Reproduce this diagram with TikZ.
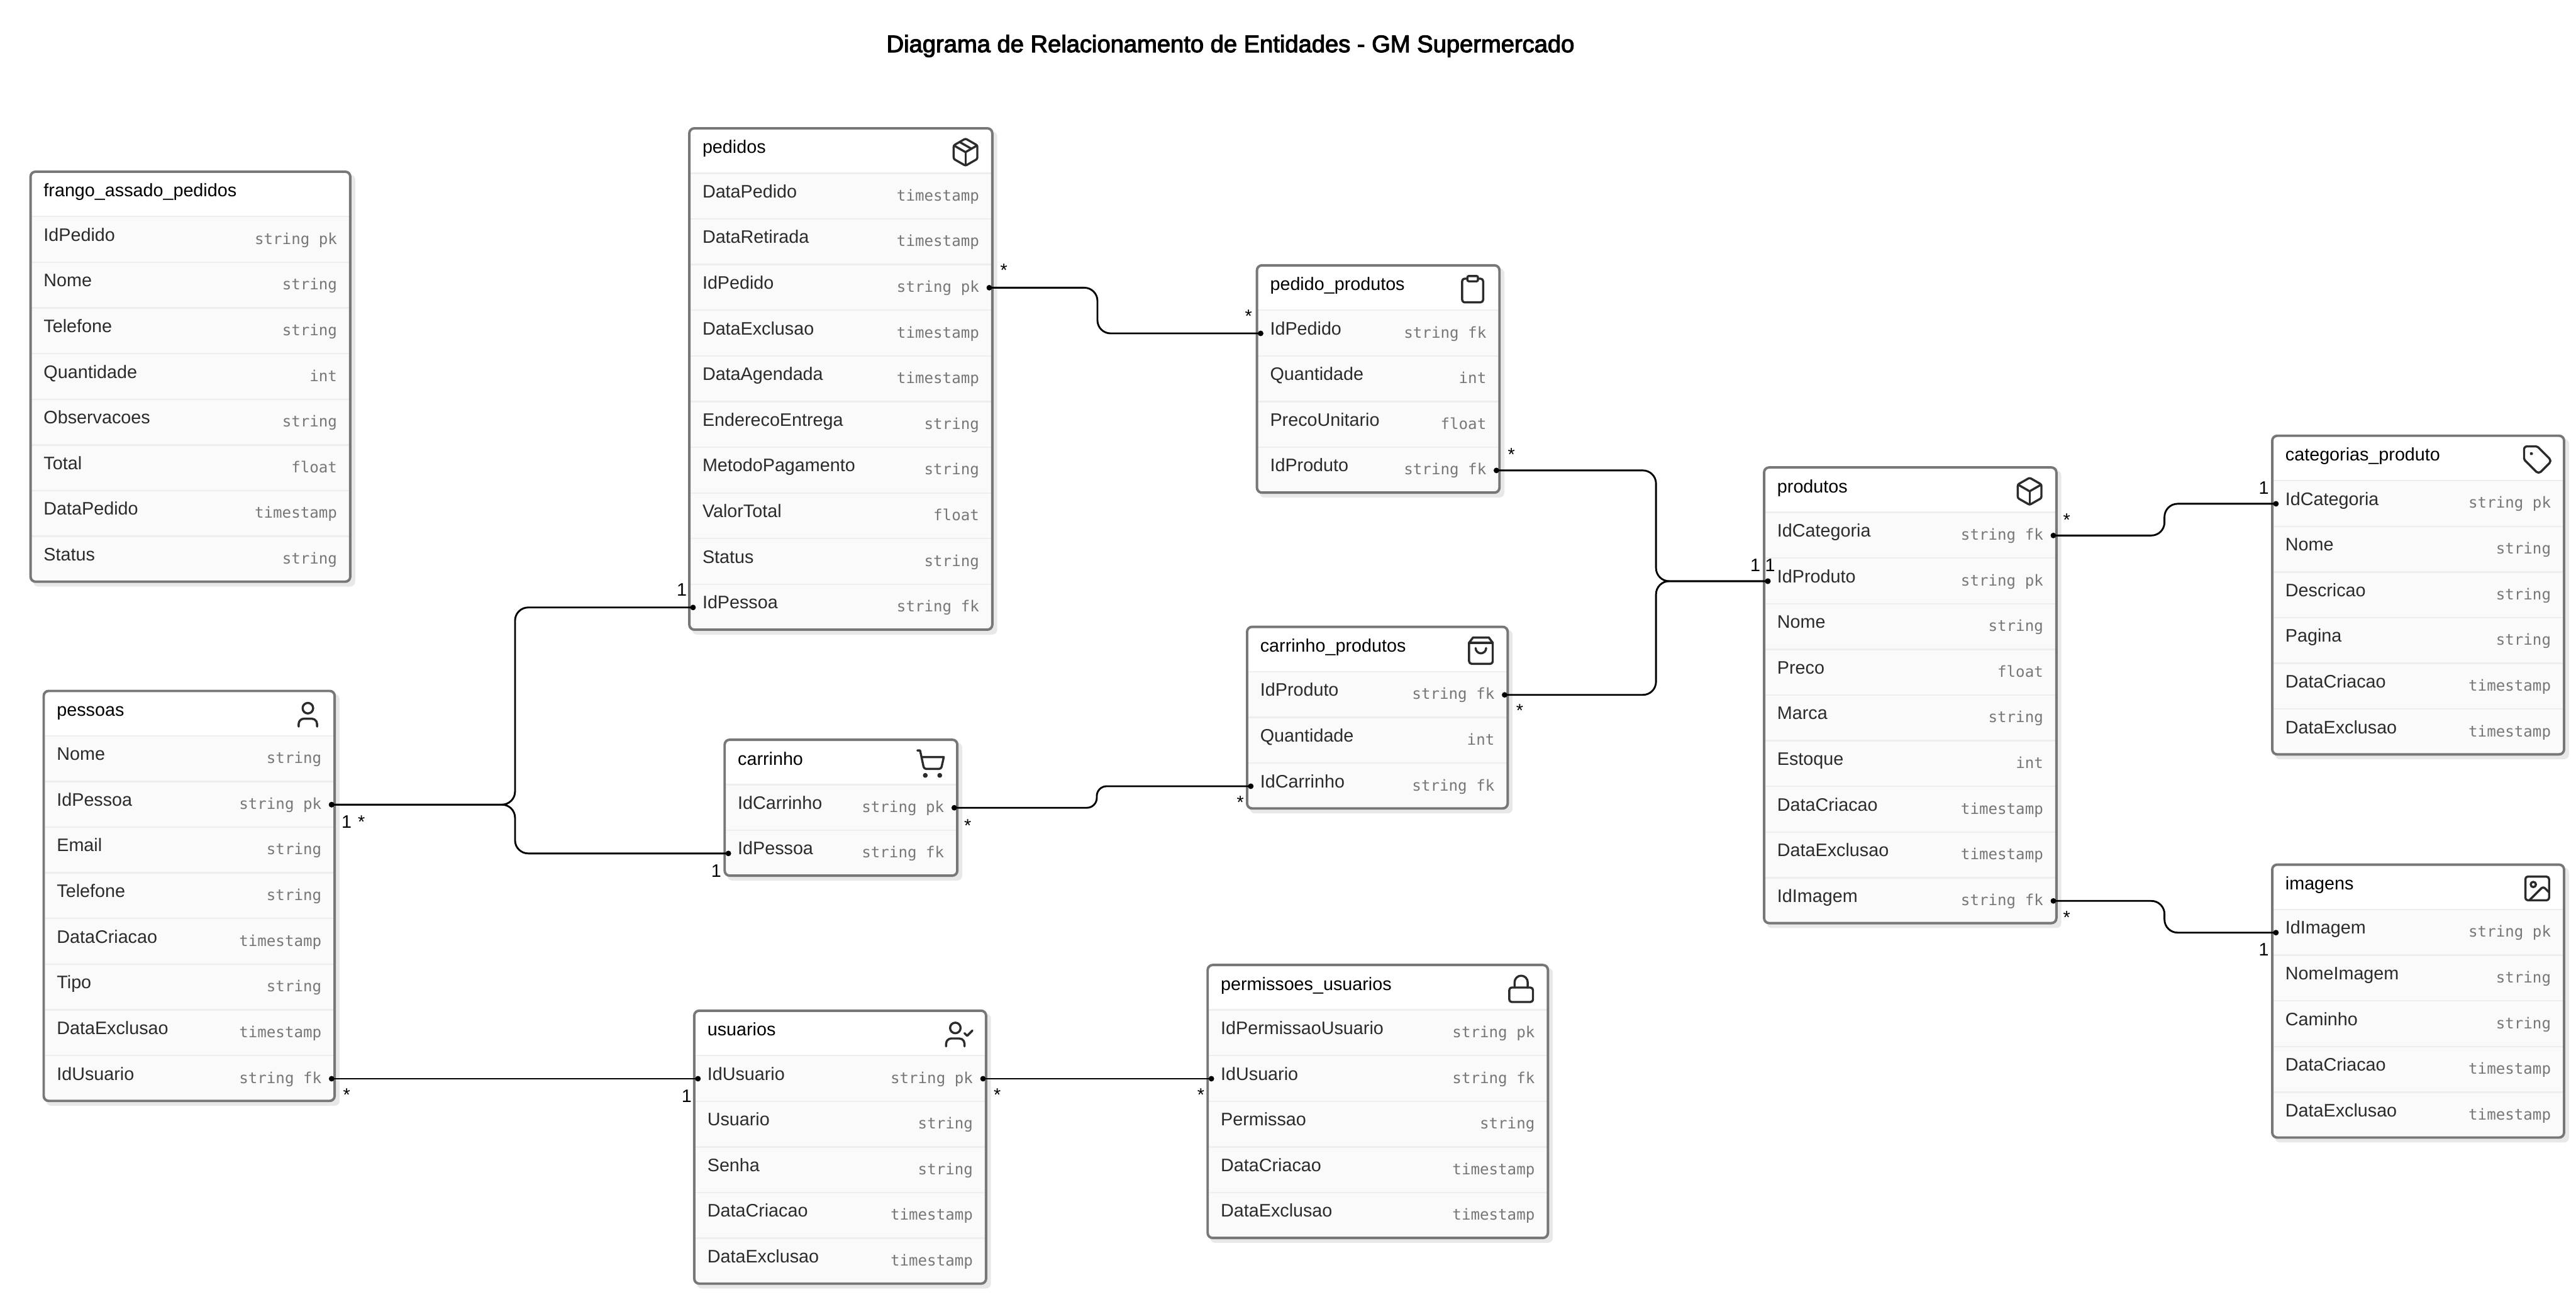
\documentclass[tikz,border=0pt]{standalone}
\usepackage{fontspec}
\setmainfont{Liberation Sans}
\newfontfamily\typefont{DejaVu Sans Mono}
\newfontfamily\titlefont[FakeBold=3]{Liberation Sans}
\usepackage{xcolor}
\usepackage{tikz}
\usetikzlibrary{arrows.meta,positioning,calc,svg.path}

\definecolor{edgegray}{HTML}{777777}
\definecolor{shadegray}{HTML}{E8E8E8}
\definecolor{rowgray}{HTML}{FAFAFA}
\definecolor{linegray}{HTML}{EEEEEE}
\definecolor{inkgray}{HTML}{2B2B2B}

\tikzset{
  rowbox/.style={rectangle,fill=rowgray,inner sep=0pt,anchor=north west,minimum height=27.8pt},
  headtext/.style={anchor=base west,inner sep=0pt,text=black,font=\fontsize{11}{13}\selectfont},
  fieldtext/.style={anchor=base west,inner sep=0pt,text=inkgray,font=\fontsize{11}{13}\selectfont},
  typetext/.style={anchor=base east,inner sep=0pt,text=edgegray,font=\typefont\fontsize{9.25}{11}\selectfont},
  card/.style={inner sep=0pt,font=\fontsize{11}{13}\selectfont},
  many/.style={card,yshift=-1.5pt},
  rel/.style={line width=1.1pt,rounded corners=8pt,{Circle[length=3.3pt,width=3.3pt]}-{Circle[length=3.3pt,width=3.3pt]},shorten <=-4.6pt,shorten >=-4.6pt},
  iconline/.style={draw=inkgray,line width=1.3pt,line cap=round,line join=round,shift={(-12pt,12pt)},yscale=-1},
  noicon/.pic={},
  usericon/.pic={
    \draw[iconline] svg "M19 21 v-2 a4 4 0 0 0 -4 -4 H9 a4 4 0 0 0 -4 4 v2";
    \draw[iconline] svg "M16 7 a4 4 0 1 1 -8 0 a4 4 0 1 1 8 0 z";
  },
  usercheckicon/.pic={
    \draw[iconline] svg "M16 21 v-2 a4 4 0 0 0 -4 -4 H6 a4 4 0 0 0 -4 4 v2";
    \draw[iconline] svg "M13 7 a4 4 0 1 1 -8 0 a4 4 0 1 1 8 0 z";
    \draw[iconline] svg "M16 11 L18 13 L22 9";
  },
  lockicon/.pic={
    \draw[iconline] svg "M5 11 H19 a2 2 0 0 1 2 2 v7 a2 2 0 0 1 -2 2 H5 a2 2 0 0 1 -2 -2 v-7 a2 2 0 0 1 2 -2 z";
    \draw[iconline] svg "M7 11 V7 a5 5 0 0 1 10 0 v4";
  },
  tagicon/.pic={
    \draw[iconline] svg "M12.586 2.586 A2 2 0 0 0 11.172 2 H4 a2 2 0 0 0 -2 2 v7.172 a2 2 0 0 0 .586 1.414 l8.704 8.704 a2.426 2.426 0 0 0 3.42 0 l6.58 -6.58 a2.426 2.426 0 0 0 0 -3.42 z";
    \draw[iconline] svg "M8 7.5 a.5 .5 0 1 1 -1 0 a.5 .5 0 1 1 1 0 z";
  },
  imageicon/.pic={
    \draw[iconline] svg "M5 3 H19 a2 2 0 0 1 2 2 v14 a2 2 0 0 1 -2 2 H5 a2 2 0 0 1 -2 -2 V5 a2 2 0 0 1 2 -2 z";
    \draw[iconline] svg "M11 9 a2 2 0 1 1 -4 0 a2 2 0 1 1 4 0 z";
    \draw[iconline] svg "M21 15 l-3.086 -3.086 a2 2 0 0 0 -2.828 0 L6 21";
  },
  boxicon/.pic={
    \draw[iconline] svg "M21 8 a2 2 0 0 0 -1 -1.73 l-7 -4 a2 2 0 0 0 -2 0 l-7 4 A2 2 0 0 0 3 8 v8 a2 2 0 0 0 1 1.73 l7 4 a2 2 0 0 0 2 0 l7 -4 A2 2 0 0 0 21 16 z";
    \draw[iconline] svg "M3.3 7 L12 12 L20.7 7";
    \draw[iconline] svg "M12 22 V12";
  },
  packageicon/.pic={
    \draw[iconline] svg "M21 8 a2 2 0 0 0 -1 -1.73 l-7 -4 a2 2 0 0 0 -2 0 l-7 4 A2 2 0 0 0 3 8 v8 a2 2 0 0 0 1 1.73 l7 4 a2 2 0 0 0 2 0 l7 -4 A2 2 0 0 0 21 16 z";
    \draw[iconline] svg "M3.3 7 L12 12 L20.7 7";
    \draw[iconline] svg "M12 22 V12";
    \draw[iconline] svg "M7.5 4.27 L16.5 9.42";
  },
  clipboardicon/.pic={
    \draw[iconline] svg "M9 2 H15 a1 1 0 0 1 1 1 v2 a1 1 0 0 1 -1 1 H9 a1 1 0 0 1 -1 -1 V3 a1 1 0 0 1 1 -1 z";
    \draw[iconline] svg "M16 4 h2 a2 2 0 0 1 2 2 v14 a2 2 0 0 1 -2 2 H6 a2 2 0 0 1 -2 -2 V6 a2 2 0 0 1 2 -2 h2";
  },
  bagicon/.pic={
    \draw[iconline] svg "M6 2 L3 6 v14 a2 2 0 0 0 2 2 h14 a2 2 0 0 0 2 -2 V6 l-3 -4 z";
    \draw[iconline] svg "M3 6 h18";
    \draw[iconline] svg "M16 10 C16 12.2 14.2 14 12 14 C9.8 14 8 12.2 8 10";
  },
  carticon/.pic={
    \draw[iconline] svg "M9 21 a1 1 0 1 1 -2 0 a1 1 0 1 1 2 0 z";
    \draw[iconline] svg "M20 21 a1 1 0 1 1 -2 0 a1 1 0 1 1 2 0 z";
    \draw[iconline] svg "M2.05 2.05 h2 l2.66 12.42 a2 2 0 0 0 2 1.58 h9.78 a2 2 0 0 0 1.95 -1.57 l1.65 -7.43 H5.12";
  },
}

% #1 name, #2 title, #3 left, #4 right, #5 top, #6 icon, #7 fields
\newcommand{\entity}[7]{
  \pgfmathsetmacro{\nrows}{0}
  \foreach \fld/\typ [count=\k] in {#7} {\xdef\nrows{\k}}
  \pgfmathsetmacro{\bottom}{#5+27.8*(\nrows+1)}
  \fill[shadegray,rounded corners=3pt] (#3+2.3,#5+2.3) rectangle (#4+2.3,\bottom+2.8);
  \fill[white,rounded corners=3pt] (#3,#5) rectangle (#4,\bottom);
  \begin{scope}
    \clip[rounded corners=3pt] (#3,#5) rectangle (#4,\bottom);
    \foreach \fld/\typ [count=\i] in {#7} {
      \node[rowbox,minimum width={(#4-#3)*1pt}] (#1-\i) at (#3,{#5+27.8*\i}) {};
      \draw[linegray,line width=.9pt] (#1-\i.north west) -- (#1-\i.north east);
    }
  \end{scope}
  \draw[edgegray,line width=1.5pt,rounded corners=3pt] (#3+.7,#5+.5) rectangle (#4-.7,\bottom-.2);
  \node[headtext] (#1-title) at (#3+8.5,#5+15.8) {#2};
  \foreach \fld/\typ [count=\i] in {#7} {
    \node[fieldtext] (#1-\i-name) at (#3+8.5,{#5+27.8*\i+14.9}) {\fld};
    \node[typetext] (#1-\i-type) at (#4-8.5,{#5+27.8*\i+16.8}) {\typ};
  }
  \pic[scale=.8] at (#4-17,#5+15) {#6};
}

% #1 optional keys, #2 from, #3 x of the vertical run, #4 to
\newcommand{\relink}[4][]{
  \draw[rel,#1] (#2.east) -- (#3,0 |- #2.east) -- (#3,0 |- #4.west) -- (#4.west);
}

\begin{document}
\begin{tikzpicture}[x=1pt,y=-1pt]
  \useasboundingbox (0,0) rectangle (1568,789.3);
  \node[inner sep=0pt,font=\titlefont\fontsize{14.6}{18}\selectfont] (diagramtitle) at (749,28) {Diagrama de Relacionamento de Entidades - GM Supermercado};

  \entity{frango}{frango\_assado\_pedidos}{17.9}{213.9}{104}{noicon}{IdPedido/string pk,Nome/string,Telefone/string,Quantidade/int,Observacoes/string,Total/float,DataPedido/timestamp,Status/string}
  \entity{pessoas}{pessoas}{25.9}{204.4}{420}{usericon}{Nome/string,IdPessoa/string pk,Email/string,Telefone/string,DataCriacao/timestamp,Tipo/string,DataExclusao/timestamp,IdUsuario/string fk}
  \entity{pedidos}{pedidos}{418.9}{604.7}{77.6}{packageicon}{DataPedido/timestamp,DataRetirada/timestamp,IdPedido/string pk,DataExclusao/timestamp,DataAgendada/timestamp,EnderecoEntrega/string,MetodoPagamento/string,ValorTotal/float,Status/string,IdPessoa/string fk}
  \entity{carrinho}{carrinho}{440.4}{583.4}{449.7}{carticon}{IdCarrinho/string pk,IdPessoa/string fk}
  \entity{pedprod}{pedido\_produtos}{764.4}{913.4}{161}{clipboardicon}{IdPedido/string fk,Quantidade/int,PrecoUnitario/float,IdProduto/string fk}
  \entity{carprod}{carrinho\_produtos}{758.4}{918.4}{381}{bagicon}{IdProduto/string fk,Quantidade/int,IdCarrinho/string fk}
  \entity{usuarios}{usuarios}{421.9}{600.9}{614.6}{usercheckicon}{IdUsuario/string pk,Usuario/string,Senha/string,DataCriacao/timestamp,DataExclusao/timestamp}
  \entity{permissoes}{permissoes\_usuarios}{734.4}{942.9}{586.8}{lockicon}{IdPermissaoUsuario/string pk,IdUsuario/string fk,Permissao/string,DataCriacao/timestamp,DataExclusao/timestamp}
  \entity{produtos}{produtos}{1073.1}{1252.4}{284}{boxicon}{IdCategoria/string fk,IdProduto/string pk,Nome/string,Preco/float,Marca/string,Estoque/int,DataCriacao/timestamp,DataExclusao/timestamp,IdImagem/string fk}
  \entity{categorias}{categorias\_produto}{1382.4}{1561.4}{264.7}{tagicon}{IdCategoria/string pk,Nome/string,Descricao/string,Pagina/string,DataCriacao/timestamp,DataExclusao/timestamp}
  \entity{imagens}{imagens}{1382.4}{1561.4}{525.7}{imageicon}{IdImagem/string pk,NomeImagem/string,Caminho/string,DataCriacao/timestamp,DataExclusao/timestamp}

  \relink{pessoas-2}{313.5}{pedidos-10}
  \relink{pessoas-2}{313.5}{carrinho-2}
  \relink{pedidos-3}{668}{pedprod-1}
  \relink[rounded corners=6pt]{carrinho-1}{667.6}{carprod-3}
  \relink{pedprod-4}{1008}{produtos-2}
  \relink{carprod-1}{1008}{produtos-2}
  \relink{produtos-1}{1317.5}{categorias-1}
  \relink{produtos-9}{1317.5}{imagens-1}
  \draw[rel] (pessoas-8.east) -- (usuarios-1.west);
  \draw[rel] (usuarios-1.east) -- (permissoes-2.west);

  % multiplicities
  \node[many] (c01) at (611,163) {*};
  \node[many] (c02) at (760,191) {*};
  \node[card] (c03) at (211,500) {1};
  \node[many] (c04) at (220,498.5) {*};
  \node[card] (c05) at (415,359) {1};
  \node[card] (c06) at (436,530) {1};
  \node[many] (c07) at (589,501) {*};
  \node[many] (c08) at (755,487) {*};
  \node[many] (c09) at (920,275) {*};
  \node[many] (c10) at (925,431) {*};
  \node[card] (c11) at (1068.5,344) {1};
  \node[card] (c12) at (1077.5,344) {1};
  \node[many] (c13) at (1258,315) {*};
  \node[card] (c14) at (1378,297) {1};
  \node[many] (c15) at (1258,557) {*};
  \node[card] (c16) at (1378,578) {1};
  \node[many] (c17) at (211,665) {*};
  \node[card] (c18) at (418,667) {1};
  \node[many] (c19) at (607,665) {*};
  \node[many] (c20) at (731,665) {*};
\end{tikzpicture}
\end{document}
